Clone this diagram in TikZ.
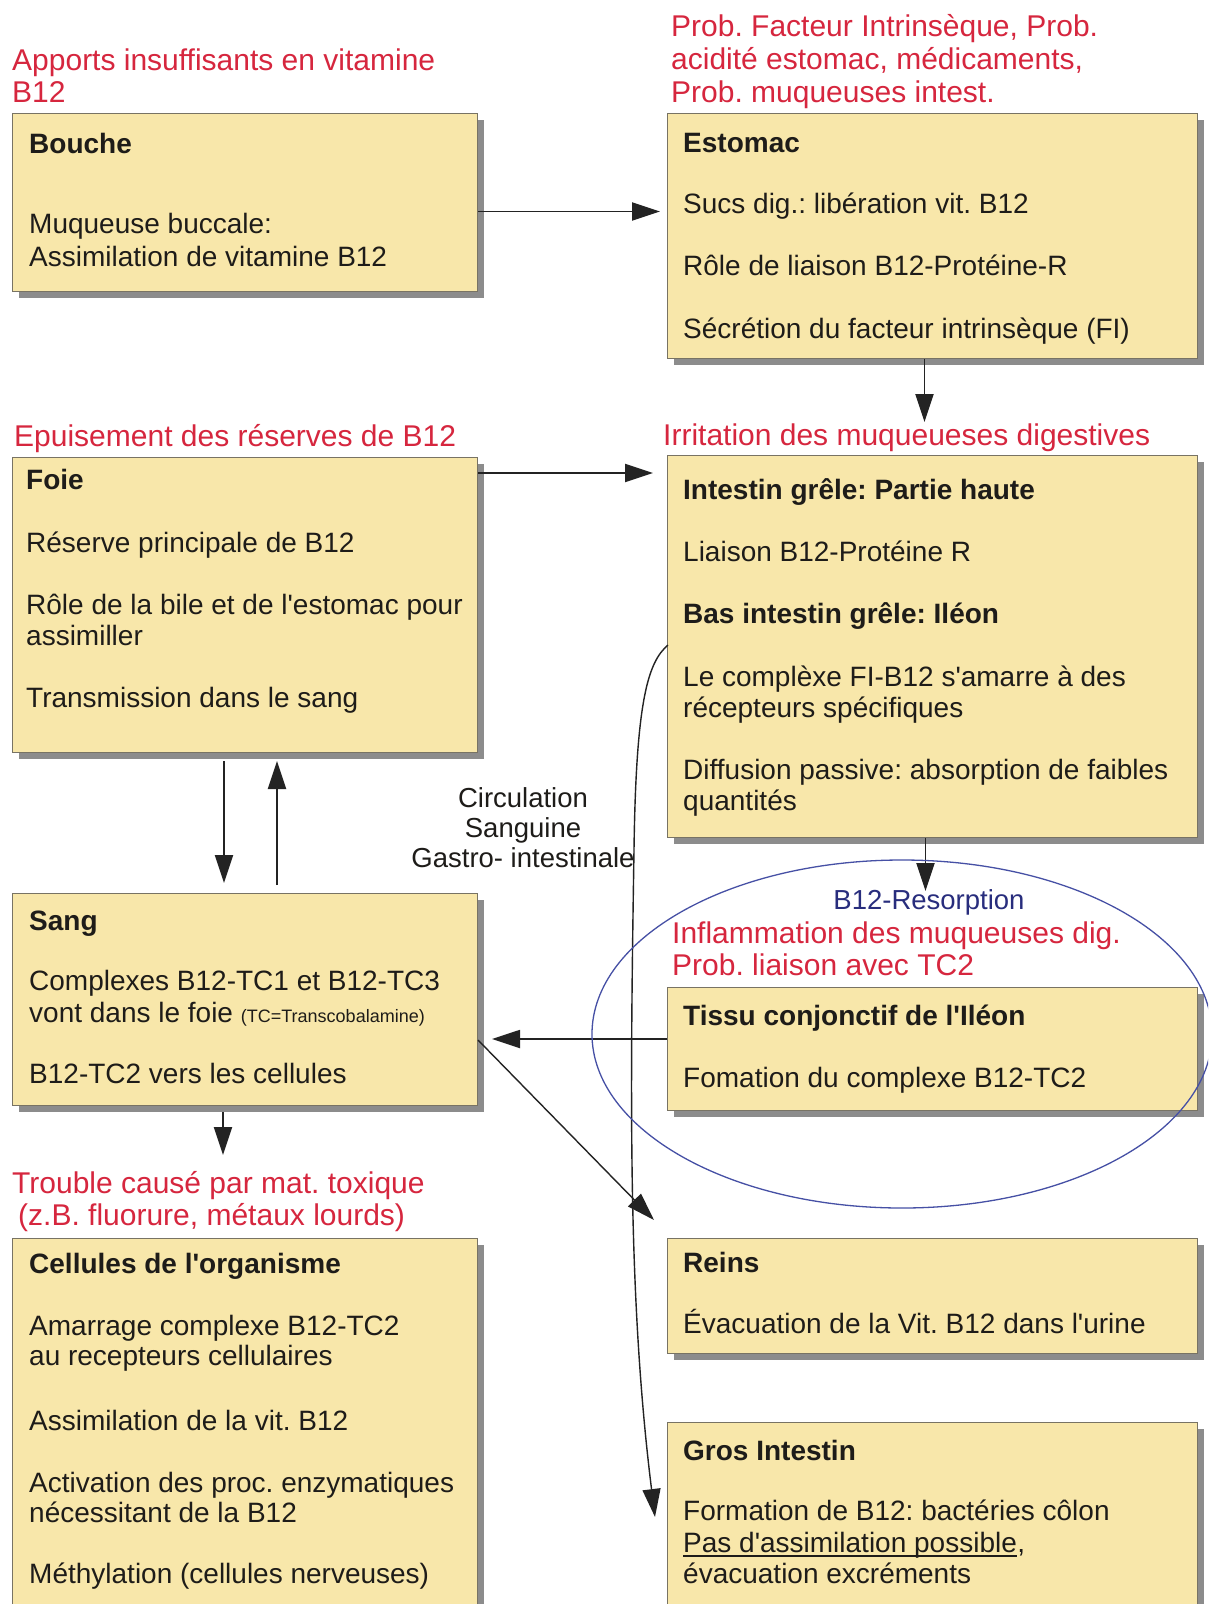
\documentclass[tikz,border=0pt]{standalone}
\usepackage{fontspec}
\setmainfont{Liberation Sans}[Ligatures=TeXOff]
\frenchspacing
\usetikzlibrary{arrows.meta,shadows,calc}
\definecolor{boxfill}{RGB}{248,231,170}
\definecolor{boxline}{RGB}{120,115,100}
\definecolor{shadowc}{RGB}{140,140,140}
\definecolor{redt}{RGB}{214,38,62}
\definecolor{navyt}{RGB}{40,45,125}
\definecolor{ellc}{RGB}{70,80,165}
\definecolor{inkc}{RGB}{30,28,25}
\definecolor{arrc}{RGB}{35,35,35}
\tikzset{
 box/.style={draw=boxline, line width=1pt, fill=boxfill, inner sep=0pt, anchor=north west,
   drop shadow={shadow xshift=6pt, shadow yshift=-6pt, fill=shadowc, opacity=1}},
 txt/.style={anchor=base west, inner sep=0pt, text=inkc, font=\fontsize{28}{33}\selectfont},
 hd/.style={txt, font=\fontsize{28}{33}\selectfont\bfseries},
 cause/.style={anchor=base west, inner sep=0pt, text=redt, font=\fontsize{30}{33}\selectfont},
 lab/.style={anchor=base, inner sep=0pt, text=inkc, font=\fontsize{27.5}{33}\selectfont},
 arr/.style={draw=arrc, line width=1.9pt, -{Triangle[length=28pt,width=18pt]}},
 thinarr/.style={draw=arrc, line width=1.4pt, -{Triangle[length=28pt,width=18pt]}},
}
\begin{document}
\begin{tikzpicture}[x=1pt,y=-1pt]
\useasboundingbox (0,0) rectangle (1208,1604);
\clip (0,0) rectangle (1208,1604);
\fill[white] (0,0) rectangle (1208,1604);

% boxes
\node[box, minimum width=465pt, minimum height=178pt] (bouche) at (12,113) {};
\node[box, minimum width=530pt, minimum height=245pt] (estomac) at (667,113) {};
\node[box, minimum width=465pt, minimum height=295pt] (foie) at (12,457) {};
\node[box, minimum width=530pt, minimum height=382pt] (intestin) at (667,455) {};
\node[box, minimum width=465pt, minimum height=212pt] (sang) at (12,893) {};
\node[box, minimum width=530pt, minimum height=123pt] (tissu) at (667,987) {};
\node[box, minimum width=530pt, minimum height=115pt] (reins) at (667,1238) {};
\node[box, minimum width=465pt, minimum height=400pt] (cellules) at (12,1238) {};
\node[box, minimum width=530pt, minimum height=220pt] (gros) at (667,1422) {};

% red cause labels
\node[cause] (c1a) at (12,70) {Apports insuffisants en vitamine};
\node[cause] (c1b) at (12,102) {B12};
\node[cause] (c2a) at (671,36) {Prob. Facteur Intrinsèque, Prob.};
\node[cause] (c2b) at (671,69) {acidité estomac, médicaments,};
\node[cause] (c2c) at (671,102) {Prob. muqueuses intest.};
\node[cause] (c3) at (14,446) {Epuisement des réserves de B12};
\node[cause] (c4) at (663,445) {Irritation des muqueueses digestives};
\node[cause] (c5a) at (672,943) {Inflammation des muqueuses dig.};
\node[cause] (c5b) at (672,975) {Prob. liaison avec TC2};
\node[cause] (c6a) at (12,1193) {Trouble causé par mat. toxique};
\node[cause] (c6b) at (18,1225) {(z.B. fluorure, métaux lourds)};

% Bouche
\node[hd] (b1) at (29,153) {Bouche};
\node[txt] (b2) at (29,233) {Muqueuse buccale:};
\node[txt] (b3) at (29,266) {Assimilation de vitamine B12};
% Estomac
\node[hd] (e1) at (683,152) {Estomac};
\node[txt] (e2) at (683,213) {Sucs dig.: libération vit. B12};
\node[txt] (e3) at (683,275) {Rôle de liaison B12-Protéine-R};
\node[txt] (e4) at (683,338) {Sécrétion du facteur intrinsèque (FI)};
% Foie
\node[hd] (f1) at (26,489) {Foie};
\node[txt] (f2) at (26,552) {Réserve principale de B12};
\node[txt] (f3) at (26,614) {Rôle de la bile et de l'estomac pour};
\node[txt] (f4) at (26,645) {assimiller};
\node[txt] (f5) at (26,707) {Transmission dans le sang};
% Intestin
\node[hd] (i1) at (683,499) {Intestin grêle: Partie haute};
\node[txt] (i2) at (683,561) {Liaison B12-Protéine R};
\node[hd] (i3) at (683,623) {Bas intestin grêle: Iléon};
\node[txt] (i4) at (683,686) {Le complèxe FI-B12 s'amarre à des};
\node[txt] (i5) at (683,717) {récepteurs spécifiques};
\node[txt] (i6) at (683,779) {Diffusion passive: absorption de faibles};
\node[txt] (i7) at (683,810) {quantités};
% Sang
\node[hd] (s1) at (29,930) {Sang};
\node[txt] (s2) at (29,990) {Complexes B12-TC1 et B12-TC3};
\node[txt] (s3) at (29,1022) {vont dans le foie {\fontsize{18}{20}\selectfont (TC=Transcobalamine)}};
\node[txt] (s4) at (29,1083) {B12-TC2 vers les cellules};
% Tissu
\node[hd] (t1) at (683,1025) {Tissu conjonctif de l'Iléon};
\node[txt] (t2) at (683,1087) {Fomation du complexe B12-TC2};
% Cellules
\node[hd] (k1) at (29,1273) {Cellules de l'organisme};
\node[txt] (k2) at (29,1335) {Amarrage complexe B12-TC2};
\node[txt] (k3) at (29,1365) {au recepteurs cellulaires};
\node[txt] (k4) at (29,1430) {Assimilation de la vit. B12};
\node[txt] (k5) at (29,1492) {Activation des proc. enzymatiques};
\node[txt] (k6) at (29,1522) {nécessitant de la B12};
\node[txt] (k7) at (29,1583) {Méthylation (cellules nerveuses)};
% Reins
\node[hd] (r1) at (683,1272) {Reins};
\node[txt] (r2) at (683,1333) {Évacuation de la Vit. B12 dans l'urine};
% Gros intestin
\node[hd] (g1) at (683,1460) {Gros Intestin};
\node[txt] (g2) at (683,1520) {Formation de B12: bactéries côlon};
\node[txt] (g3) at (683,1552) {Pas d'assimilation possible};
\node[txt] (g3c) at (g3.base east) {,};
\draw[inkc, line width=1.2pt] ($(g3.base west)+(0,4)$) -- ($(g3.base east)+(0,4)$);
\node[txt] (g4) at (683,1583) {évacuation excréments};

% middle labels
\node[lab] (m1) at (523,807) {Circulation};
\node[lab] (m2) at (523,837) {Sanguine};
\node[lab] (m3) at (523,867) {Gastro- intestinale};
\node[lab, text=navyt] (res) at (929,909) {B12-Resorption};

% connectors
\draw[arr] ($(bouche.east)+(0,9)$) -- ($(bouche.east -| estomac.west)+(-7,9)$);
\draw[arr] ($(estomac.south)+(-8,0)$) -- ($(intestin.north)+(-8,-33)$);
\draw[arr] ($(foie.north east)+(0,16)$) -- ($(foie.north east -| intestin.west)+(-14,16)$);
\draw[arr] ($(foie.south west)+(212,8)$) -- ($(sang.north west)+(212,-10)$);
\draw[arr] ($(sang.north west)+(265,-8)$) -- ($(foie.south west)+(265,8)$);
\draw[arr] ($(intestin.south)+(-7,0)$) -- ($(intestin.south)+(-7,53)$);
\draw[arr] ($(tissu.west)+(0,-10)$) -- ($(tissu.west -| sang.east)+(14,-10)$);
\draw[thinarr] ($(sang.north east)+(0,147)$) -- ($(reins.north west)+(-13,-18)$);
\draw[arr] ($(sang.south west)+(211,6)$) -- ($(cellules.north west)+(211,-83)$);
\draw[thinarr] ($(intestin.north west)+(1,190)$) .. controls (648,662) and (636,700) .. (634,850)
   .. controls (630,1100) and (628,1300) .. ($(gros.north west)+(-12,95)$);

% resorption ellipse
\draw[ellc, line width=1.3pt] (902,1034) ellipse [x radius=310pt, y radius=174pt];
\end{tikzpicture}
\end{document}
